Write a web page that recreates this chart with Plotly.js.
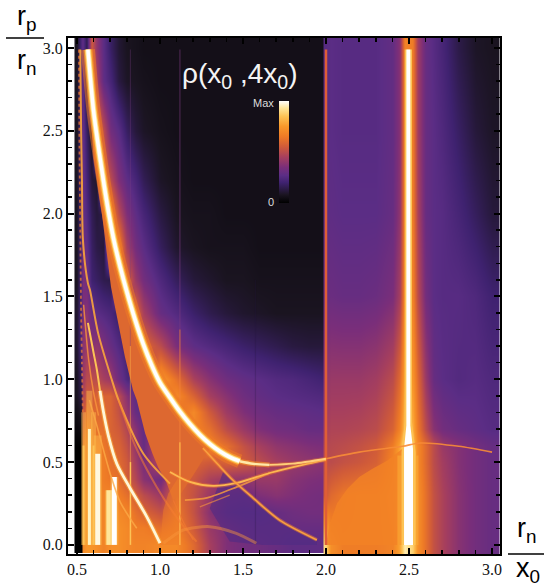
<!DOCTYPE html>
<html><head><meta charset="utf-8">
<script src="https://cdn.plot.ly/plotly-3.0.1.min.js"></script>
<style>html,body{margin:0;padding:0;background:#fff}#c{width:544px;height:586px}</style>
</head><body><div id="c"></div>
<script>
// ---- field values (0 = black, 1 = white) ----
const xLeft=[.50,.53,.535,.56,.59,.62,.66,.70,.75,.80,.85,.90,1.0,1.1,1.2,1.3,1.4,1.5,1.6,1.7,1.8,1.9,1.999];
const yLeft=[0,.1,.2,.3,.4,.5,.6,.7,.8,.9,1.0,1.2,1.4,1.6,1.8,2.0,2.2,2.5,2.8,3.0];
const zL00=[0,0,.7,.74,.74,.72,.68,.72,.72,.7,.68,.68,.7,.7,.6,.45,.36,.33,.32,.3,.28,.28,.28];
const zL01=[0,0,.7,.74,.74,.72,.68,.72,.72,.7,.66,.66,.62,.66,.55,.42,.36,.32,.3,.3,.3,.3,.3];
const zL02=[0,0,.7,.74,.74,.72,.68,.72,.7,.68,.62,.58,.52,.64,.52,.38,.3,.28,.28,.3,.32,.33,.33];
const zL03=[0,0,.7,.74,.74,.72,.68,.68,.66,.62,.56,.5,.42,.6,.52,.42,.33,.32,.36,.38,.36,.34,.33];
const zL04=[0,0,.68,.72,.74,.7,.66,.64,.62,.56,.48,.38,.32,.58,.54,.46,.42,.4,.42,.42,.38,.36,.35];
const zL05=[0,0,.68,.72,.72,.68,.66,.62,.6,.55,.44,.34,.5,.58,.58,.55,.58,.56,.5,.45,.42,.4,.38];
const zL06=[0,0,.64,.7,.68,.66,.64,.6,.58,.52,.4,.3,.55,.58,.62,.68,.62,.52,.45,.4,.38,.36,.35];
const zL07=[.03,.05,.58,.66,.64,.62,.62,.58,.55,.48,.38,.28,.55,.6,.68,.62,.5,.42,.36,.33,.32,.3,.3];
const zL08=[.05,.1,.52,.62,.6,.6,.6,.58,.52,.42,.3,.26,.55,.6,.7,.55,.43,.36,.32,.3,.29,.28,.27];
const zL09=[.08,.15,.46,.55,.55,.58,.58,.58,.5,.38,.27,.24,.6,.7,.58,.45,.38,.32,.29,.27,.26,.25,.24];
const zL10=[.08,.18,.42,.5,.5,.5,.45,.42,.32,.24,.2,.25,.75,.62,.46,.38,.32,.29,.27,.25,.24,.22,.2];
const zL11=[.1,.25,.38,.42,.38,.4,.35,.3,.25,.2,.2,.6,.5,.35,.28,.25,.22,.19,.17,.15,.13,.12,.12];
const zL12=[.1,.25,.35,.38,.3,.27,.25,.23,.18,.15,.6,.45,.3,.25,.19,.15,.12,.1,.09,.08,.08,.08,.08];
const zL13=[.08,.25,.35,.32,.2,.18,.15,.14,.6,.6,.42,.33,.24,.17,.12,.1,.08,.08,.07,.07,.07,.07,.07];
const zL14=[.08,.25,.33,.28,.18,.14,.12,.6,.7,.45,.33,.27,.17,.1,.08,.07,.07,.07,.06,.06,.06,.06,.06];
const zL15=[.08,.25,.3,.25,.16,.12,.15,.7,.5,.36,.28,.22,.13,.08,.07,.07,.06,.06,.06,.06,.06,.06,.06];
const zL16=[.08,.25,.3,.22,.12,.1,.6,.5,.36,.28,.22,.16,.09,.07,.06,.06,.06,.06,.06,.06,.06,.06,.06];
const zL17=[.08,.25,.3,.18,.08,.65,.5,.33,.27,.18,.12,.09,.07,.06,.06,.06,.06,.06,.06,.06,.06,.06,.06];
const zL18=[.08,.25,.3,.1,.65,.45,.28,.22,.13,.09,.08,.07,.06,.06,.06,.06,.06,.06,.06,.06,.06,.06,.06];
const zL19=[.08,.25,.28,.15,.55,.4,.27,.18,.11,.08,.07,.06,.06,.06,.06,.06,.06,.06,.06,.06,.06,.06,.06];
const zLeft=[zL00,zL01,zL02,zL03,zL04,zL05,zL06,zL07,zL08,zL09,zL10,zL11,zL12,zL13,zL14,zL15,zL16,zL17,zL18,zL19];

const xRight=[2.0,2.03,2.1,2.2,2.3,2.4,2.44,2.47,2.52,2.55,2.6,2.65,2.7,2.8,2.9,3.0];
const yRight=[0,.3,.5,.6,.7,1.0,1.5,2.0,2.5,3.0];
const zR0=[.9,.72,.66,.66,.66,.68,.78,.95,.88,.72,.62,.52,.46,.38,.33,.3];
const zR1=[.55,.6,.64,.66,.66,.7,.8,.95,.88,.72,.62,.52,.46,.38,.33,.3];
const zR2=[.5,.5,.52,.54,.57,.68,.78,.95,.85,.7,.6,.5,.44,.37,.33,.3];
const zR3=[.48,.49,.5,.52,.55,.66,.78,.95,.85,.7,.6,.5,.42,.37,.33,.3];
const zR4=[.45,.47,.47,.48,.5,.58,.68,.85,.8,.65,.5,.38,.33,.3,.28,.26];
const zR5=[.4,.42,.42,.42,.44,.5,.6,.78,.74,.6,.42,.3,.27,.25,.26,.24];
const zR6=[.3,.31,.3,.3,.31,.35,.45,.7,.68,.5,.33,.27,.26,.26,.24,.2];
const zR7=[.27,.28,.27,.27,.27,.3,.4,.68,.66,.46,.3,.27,.26,.22,.17,.12];
const zR8=[.26,.27,.26,.26,.26,.29,.38,.68,.66,.44,.3,.27,.24,.18,.12,.09];
const zR9=[.26,.27,.26,.26,.26,.29,.38,.68,.66,.44,.3,.26,.22,.14,.09,.08];
const zRight=[zR0,zR1,zR2,zR3,zR4,zR5,zR6,zR7,zR8,zR9];

const palette=[[0,'#000000'],[.08,'#1a1420'],[.2,'#3f2270'],[.27,'#5b2d85'],[.35,'#7a2e7a'],[.45,'#a63f5e'],[.55,'#cf5a3a'],[.65,'#ee7a26'],[.75,'#f9982a'],[.85,'#fdc355'],[.93,'#ffe69a'],[1,'#ffffff']];

// ---- curves ----
const mainX=[.566,.60,.64,.68,.72,.76,.80,.85,.90,.95,1.0,1.06,1.12,1.18,1.24,1.30,1.36,1.42,1.48];
const mainY=[2.99,2.62,2.33,2.07,1.85,1.68,1.53,1.36,1.21,1.085,.98,.89,.805,.73,.665,.61,.565,.53,.505];
const tailAX=[1.48,1.56,1.66];
const tailAY=[.505,.49,.483];
const tailBX=[1.66,1.80,2.0];
const tailBY=[.483,.49,.52];
const rightTailX=[2.0,2.2,2.46,2.57,2.8,3.0];
const rightTailY=[.52,.56,.595,.615,.595,.56];
const edgeX=[.554,.60,.62,.65,.705,.75,.789,.837,.86,.91,.955,.988,1.04,1.08];
const edgeY=[2.99,2.34,2.2,2.0,1.557,1.33,1.135,.935,.875,.676,.55,.47,.374,.27];
const glowFootX=[1.12,1.2,1.3];
const glowFootY=[.3,.42,.58];
const edgeLowX=[1.08,1.14,1.2];
const edgeLowY=[.27,.14,.03];
const diagX=[1.259,1.35,1.44,1.56,1.72,1.945];
const diagY=[.585,.485,.39,.284,.15,.03];
const whiteTopX=[.566,.60,.62,.639];
const whiteTopY=[1.34,1.16,1.056,.93];
const whiteX=[.639,.66,.689,.74,.82,.92,1.0];
const whiteY=[.93,.80,.66,.49,.342,.171,.01];
const thinAX=[.52,.525,.53,.536,.566,.578,.627,.71,.75,.90,1.06];
const thinAY=[2.99,2.5,2.2,1.84,1.58,1.54,1.28,.996,.875,.55,.37];
const noiseX=[.512,.515,.52,.525,.53,.535];
const noiseY=[2.99,2.4,1.9,1.4,1.1,.8];
const thinBX=[.575,.62,.70,.76,.86];
const thinBY=[.875,.72,.43,.26,.10];
const thinCX=[.75,.85,.98,1.12,1.22];
const thinCY=[.875,.60,.35,.14,.02];
const thinDX=[.54,.57,.60,.63];
const thinDY=[1.45,1.12,.92,.78];
const curveEX=[1.06,1.18,1.32,1.464,1.66,1.86,2.0];
const curveEY=[.44,.38,.356,.374,.434,.483,.513];
const curveFX=[1.15,1.283,1.464,1.66];
const curveFY=[.27,.284,.35,.434];
const curveGX=[1.24,1.42];
const curveGY=[.23,.30];
const arcX=[1.02,1.06,1.14,1.30,1.46,1.58];
const arcY=[.01,.04,.09,.11,.07,.01];
const domeX=[1.0,1.01,1.02,1.05,1.10,1.12,1.12];
const domeY=[0,.1,.21,.31,.39,.42,0];
const rightDomeX=[2.0,2.02,2.066,2.13,2.2,2.28,2.37,2.46,2.46,2.0];
const rightDomeY=[0,.12,.25,.34,.41,.46,.51,.58,0,0];
const purpleX=[1.38,1.44,1.56,1.72,1.945,1.945,1.62,1.42,1.3];
const purpleY=[.44,.39,.284,.15,.03,0,0,.02,.22];
const columnCoreX=[2.47,2.47,2.484,2.484,2.508,2.508,2.524,2.524];
const columnCoreY=[0,.58,.72,2.99,2.99,.72,.58,0];
const columnHaloX=[2.455,2.455,2.474,2.474,2.518,2.518,2.54,2.54];
const columnHaloY=[0,.56,.74,2.99,2.99,.74,.56,0];
const columnFootX=[2.43,2.43,2.557,2.557];
const columnFootY=[0,.54,.54,0];

// vertical stripes: x, full-strength top, faded top
const stripeX=[.54,.575,.60,.625,.695,.725];
const stripeTop=[.6,.7,.6,.55,.33,.41];
const stripeFade=[.8,.93,.8,.66,.33,.41];
const stripeWidth=[2,3,2,5,6,5];
const stripeColor=['#fdc355','#fff2c0','#fdc355','#fff8e0','#ffe69a','#ffffff'];

const traces=[];
function heat(x,y,z,extra){traces.push(Object.assign({type:'heatmap',x:x,y:y,z:z,zmin:0,zmax:1,zsmooth:'best',colorscale:palette,showscale:false,hoverinfo:'skip'},extra||{}));}
function line(x,y,w,c,dash){traces.push({type:'scatter',mode:'lines',x:x,y:y,line:{width:w,color:c,dash:dash||'solid',shape:'spline',smoothing:.8},hoverinfo:'skip',showlegend:false});}
function fill(x,y,c){traces.push({type:'scatter',mode:'none',x:x,y:y,fill:'toself',fillcolor:c,hoverinfo:'skip',showlegend:false});}

heat(xLeft,yLeft,zLeft,{showscale:true,colorbar:{x:.4885,xanchor:'left',y:.8785,yanchor:'top',lenmode:'pixels',len:102,thicknessmode:'pixels',thickness:10,xpad:0,ypad:0,outlinewidth:0,showticklabels:false,tickmode:'array',tickvals:[],ticktext:[],ticks:'',borderwidth:0}});
heat(xRight,yRight,zRight);

fill(edgeX.concat(glowFootX,mainX.slice(0,16).reverse()),edgeY.concat(glowFootY,mainY.slice(0,16).reverse()),'#dd6830');
fill(purpleX,purpleY,'rgba(78,44,132,.6)');
fill(domeX,domeY,'rgba(240,125,40,.5)');
fill(rightDomeX,rightDomeY,'rgba(243,130,38,.8)');
fill(columnFootX,columnFootY,'rgba(249,165,50,.7)');
fill(columnHaloX,columnHaloY,'#fdc355');
fill(columnCoreX,columnCoreY,'#ffffff');

// faint column seams
line([1.12,1.12],[1.3,2.99],1.5,'rgba(125,60,130,.4)');
line([1.12,1.12],[.62,1.3],1.5,'rgba(245,130,60,.5)');
line([1.12,1.12],[0,.62],1.8,'rgba(252,175,70,.8)');
line([.822,.822],[1.2,2.99],1.2,'rgba(120,60,130,.3)');
line([.822,.822],[.5,1.2],1.2,'rgba(250,170,70,.45)');
line([.822,.822],[0,.5],1.5,'#fdc355');
line([1.575,1.575],[0,1.6],1.2,'rgba(30,20,60,.22)');
line([2.0,2.0],[0,2.99],2.5,'#df5e36');

stripeX.forEach((x,i)=>{
  line([x,x],[0,stripeFade[i]],stripeWidth[i]+3,'rgba(253,190,80,.45)');
  line([x,x],[0,stripeTop[i]],stripeWidth[i],stripeColor[i]);
});

// thin caustics
line(noiseX,noiseY,1.8,'rgba(235,120,50,.75)','dot');
line(thinAX,thinAY,2,'rgba(250,165,60,.9)');
line(thinBX,thinBY,1.6,'rgba(252,170,70,.8)');
line(thinCX,thinCY,2,'rgba(245,125,50,.55)');
line(thinDX,thinDY,1.5,'rgba(250,150,60,.8)');
line(edgeLowX,edgeLowY,1.3,'rgba(240,120,50,.7)');
line(arcX,arcY,3,'rgba(248,150,60,.45)');
line(curveGX,curveGY,1.3,'rgba(250,150,60,.6)');
line(curveFX,curveFY,1.8,'rgba(250,160,60,.8)');
line(curveEX,curveEY,4,'rgba(245,125,45,.4)');
line(curveEX,curveEY,1.8,'#fdb850');
line(rightTailX,rightTailY,1.6,'rgba(247,140,55,.9)');
line(diagX,diagY,3.5,'rgba(245,130,45,.5)');
line(diagX,diagY,1.6,'#f9a040');

// lower white caustic
line(whiteTopX,whiteTopY,2,'#fdc355');
line(whiteX,whiteY,5,'rgba(250,170,60,.6)');
line(whiteX,whiteY,2.8,'#fff6d8');

// main white curve with its glow
line(tailBX,tailBY,4,'rgba(245,130,45,.4)');
line(tailBX,tailBY,1.8,'#ffcf7a');
line(tailAX,tailAY,5,'rgba(249,152,42,.6)');
line(tailAX,tailAY,2.4,'#ffe9a8');
line(mainX,mainY,14,'rgba(238,122,38,.55)');
line(mainX,mainY,9,'rgba(249,152,42,.75)');
line(mainX,mainY,6.5,'#fdc355');
line(mainX,mainY,5,'#ffe69a');
line(mainX,mainY,3.5,'#ffffff');

const note=(t,x,y,s,c,f)=>({text:t,xref:'paper',yref:'paper',x:(x-68)/432,y:(554-y)/516,xanchor:'center',yanchor:'middle',showarrow:false,font:{size:s,color:c||'#000',family:f||'Liberation Sans'}});
const tickStyle={ticks:'inside',ticklen:6,tickwidth:2,tickcolor:'#000',showline:true,linewidth:2,linecolor:'#000',mirror:'ticks',showgrid:false,zeroline:false,tickformat:'.1f',minor:{dtick:.1,ticks:'inside',ticklen:4,tickwidth:1.5,tickcolor:'#000',showgrid:false},tickfont:{family:'Liberation Serif',size:16,color:'#111'}};
const layout={
 width:544,height:586,paper_bgcolor:'#fff',plot_bgcolor:'#fff',showlegend:false,
 margin:{l:68,r:44,t:38,b:32,pad:0},
 xaxis:Object.assign({range:[.446,3.048],tick0:.5,dtick:.5},tickStyle),
 yaxis:Object.assign({range:[-.055,3.06],tick0:0,dtick:.5},tickStyle),
 annotations:[
  note('ρ(x<sub>0</sub> ,4x<sub>0</sub>)',240,75,28,'#f4f4f4'),
  note('Max',263,103,11,'#dddddd'),
  note('0',271,202,11,'#dddddd'),
  note('r<sub>p</sub>',27,18,27),
  note('r<sub>n</sub>',27,62,27),
  note('r<sub>n</sub>',527,530,27),
  note('x<sub>0</sub>',528,570,27)
 ],
 shapes:[
  {type:'line',xref:'paper',yref:'paper',x0:(6-68)/432,x1:(44-68)/432,y0:(554-38)/516,y1:(554-38)/516,line:{color:'#000',width:1.5}},
  {type:'line',xref:'paper',yref:'paper',x0:(508-68)/432,x1:(544-68)/432,y0:0,y1:0,line:{color:'#000',width:1.5}}
 ]
};
Plotly.newPlot('c',traces,layout,{displayModeBar:false,staticPlot:true});
</script></body></html>
